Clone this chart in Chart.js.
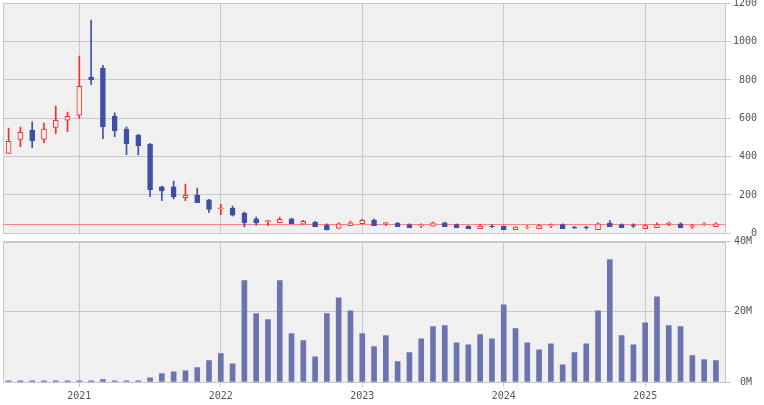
<!DOCTYPE html>
<html lang="ja">
<head>
<meta charset="utf-8">
<title>Monthly chart</title>
<script src="https://cdn.jsdelivr.net/npm/chart.js@4/dist/chart.umd.min.js"></script>
<style>
  html, body { margin: 0; padding: 0; background: #fff; }
  #wrap { position: relative; width: 764px; height: 405px; overflow: hidden; }
  canvas { position: absolute; left: 0; }
  #price { top: 0; }
  #volume { top: 236px; }
</style>
</head>
<body>
<div id="wrap">
  <canvas id="price" width="764" height="245"></canvas>
  <canvas id="volume" width="764" height="169"></canvas>
</div>
<script>
// monthly bars, 2020-07 .. 2025-07
const months = [
  '2020-07','2020-08','2020-09','2020-10','2020-11','2020-12',
  '2021-01','2021-02','2021-03','2021-04','2021-05','2021-06','2021-07','2021-08','2021-09','2021-10','2021-11','2021-12',
  '2022-01','2022-02','2022-03','2022-04','2022-05','2022-06','2022-07','2022-08','2022-09','2022-10','2022-11','2022-12',
  '2023-01','2023-02','2023-03','2023-04','2023-05','2023-06','2023-07','2023-08','2023-09','2023-10','2023-11','2023-12',
  '2024-01','2024-02','2024-03','2024-04','2024-05','2024-06','2024-07','2024-08','2024-09','2024-10','2024-11','2024-12',
  '2025-01','2025-02','2025-03','2025-04','2025-05','2025-06','2025-07'
];
const open  = [417,490,539,490,553,590, 616,815,862,612,544,513,466,242,242,186,200,174,
               128,132,106,75,61,55,75,47,57,43,26,40, 50,69,50,52,45,38,37,54,45,37,24,38,
               37,19,29,24,38,45,33,33,19,52,45,42, 24,29,48,50,35,46,35];
const high  = [549,554,581,575,664,633, 925,1113,876,628,555,518,470,247,273,257,236,177,
               153,142,111,85,68,85,80,68,63,49,54,64, 73,75,57,57,49,49,59,59,50,40,45,45,
               40,35,40,45,50,50,37,38,55,66,49,49, 45,55,59,54,45,55,55];
const low   = [417,452,447,473,520,530, 600,775,494,504,410,409,191,170,179,170,160,107,
               97,90,33,43,40,55,50,47,35,17,26,40, 50,40,40,35,29,29,37,35,29,24,24,29,
               19,19,24,24,29,24,24,22,19,35,29,29, 24,29,40,29,24,40,35];
const close = [480,527,483,544,590,610, 767,801,556,535,467,457,227,221,191,198,160,124,
               133,95,55,54,66,73,50,63,35,17,49,54, 68,40,55,35,29,42,54,35,29,24,38,34,
               19,33,33,40,42,24,29,29,49,35,29,38, 40,45,52,29,39,50,50];
// volume in millions of shares
const volume = [0.3,0.3,0.3,0.3,0.3,0.3, 0.3,0.3,0.7,0.3,0.3,0.3,1.2,2.4,2.9,3.2,4.1,6.1,
                8.1,5.2,28.9,19.5,17.8,28.9,13.8,11.8,7.2,19.5,24.0,20.3,
                13.8,10.1,13.2,5.8,8.4,12.3,15.8,16.1,11.2,10.6,13.5,12.3,
                22.0,15.2,11.2,9.2,10.9,4.9,8.4,10.9,20.3,34.9,13.2,10.6,
                16.9,24.3,16.1,15.8,7.5,6.4,6.1];
const lastPrice = 47;
const yearLabels = ['2021','2022','2023','2024','2025'];

const UP = '#ff2a2a', DOWN = '#3f4fa3', VOL = '#6c74b0';
const GRID = '#c8c8c8', PANEL = '#f0f0f0', TEXT = '#555';
const FONT = { family: "'DejaVu Sans Mono', monospace", size: 10 };

const yearIdx = yearLabels.map(y => months.indexOf(y + '-01'));
const isUp = months.map((m, i) => close[i] >= open[i]);

const panelPlugin = {
  id: 'panel',
  beforeDraw(chart) {
    const a = chart.chartArea, c = chart.ctx;
    c.save();
    c.fillStyle = PANEL;
    c.fillRect(a.left, a.top, a.right - a.left, a.bottom - a.top);
    c.restore();
  },
  beforeDatasetsDraw(chart, args, opts) {
    const a = chart.chartArea, c = chart.ctx;
    c.save();
    c.strokeStyle = GRID;
    c.lineWidth = 1;
    c.strokeRect(Math.round(a.left) + 0.5, Math.round(a.top) + 0.5,
                 Math.round(a.right - a.left), Math.round(a.bottom - a.top));
    if (opts.refValue != null) {
      const y = Math.round(chart.scales.y.getPixelForValue(opts.refValue)) + 0.5;
      c.strokeStyle = '#ff8080';
      c.beginPath();
      c.moveTo(a.left, y);
      c.lineTo(a.right, y);
      c.stroke();
    }
    c.restore();
  }
};

function xScale(showLabels) {
  return {
    type: 'linear',
    offset: false,
    min: -0.45,
    max: 60.83,
    afterBuildTicks: s => { s.ticks = yearIdx.map(v => ({ value: v })); },
    afterFit: s => { s.height = showLabels ? 23 : 0; s.paddingLeft = 0; s.paddingRight = 0; },
    grid: { offset: false, color: GRID, drawTicks: showLabels, tickLength: 5, tickColor: GRID },
    border: { display: false },
    ticks: {
      display: showLabels,
      autoSkip: false,
      maxRotation: 0,
      padding: 3,
      color: TEXT,
      font: FONT,
      callback: v => yearLabels[yearIdx.indexOf(v)]
    }
  };
}

function yScale(min, max, step, width, fmt) {
  return {
    position: 'right',
    min: min, max: max,
    afterFit: s => { s.width = width; s.paddingTop = 0; s.paddingBottom = 0; },
    grid: { color: GRID, tickLength: 5, tickColor: GRID },
    border: { display: true, color: GRID },
    ticks: { stepSize: step, color: TEXT, font: FONT, padding: 2, crossAlign: 'far', callback: fmt }
  };
}

const common = {
  responsive: false,
  animation: false,
  events: [],
  plugins: { legend: { display: false }, tooltip: { enabled: false } }
};

new Chart(document.getElementById('price'), {
  type: 'bar',
  data: {
    datasets: [{
      label: 'body',
      data: months.map((m, i) => ({ x: i, y: [open[i], close[i]] })),
      backgroundColor: isUp.map(u => u ? PANEL : DOWN),
      borderColor: isUp.map(u => u ? UP : DOWN),
      borderWidth: 1,
      borderSkipped: false,
      barThickness: 5,
      grouped: false
    }, {
      label: 'wick',
      data: months.map((m, i) => ({ x: i, y: [low[i], high[i]] })),
      backgroundColor: isUp.map(u => u ? UP : DOWN),
      borderWidth: 0,
      barThickness: 1,
      grouped: false
    }]
  },
  options: Object.assign({}, common, {
    layout: { padding: { left: 3.3, top: 3.3, right: 7, bottom: 11.7 } },
    scales: {
      x: xScale(false),
      y: yScale(0, 1200, 200, 31.3, v => v)
    },
    plugins: Object.assign({}, common.plugins, { panel: { refValue: lastPrice } })
  }),
  plugins: [panelPlugin]
});

new Chart(document.getElementById('volume'), {
  type: 'bar',
  data: {
    datasets: [{
      label: 'volume',
      data: months.map((m, i) => ({ x: i, y: volume[i] })),
      backgroundColor: VOL,
      barThickness: 5
    }]
  },
  options: Object.assign({}, common, {
    layout: { padding: { left: 3.3, top: 5.7, right: 12, bottom: 0 } },
    scales: {
      x: xScale(true),
      y: yScale(0, 40, 20, 26.3, v => v + 'M')
    },
    plugins: Object.assign({}, common.plugins, { panel: { refValue: null } })
  }),
  plugins: [panelPlugin]
});
</script>
</body>
</html>
